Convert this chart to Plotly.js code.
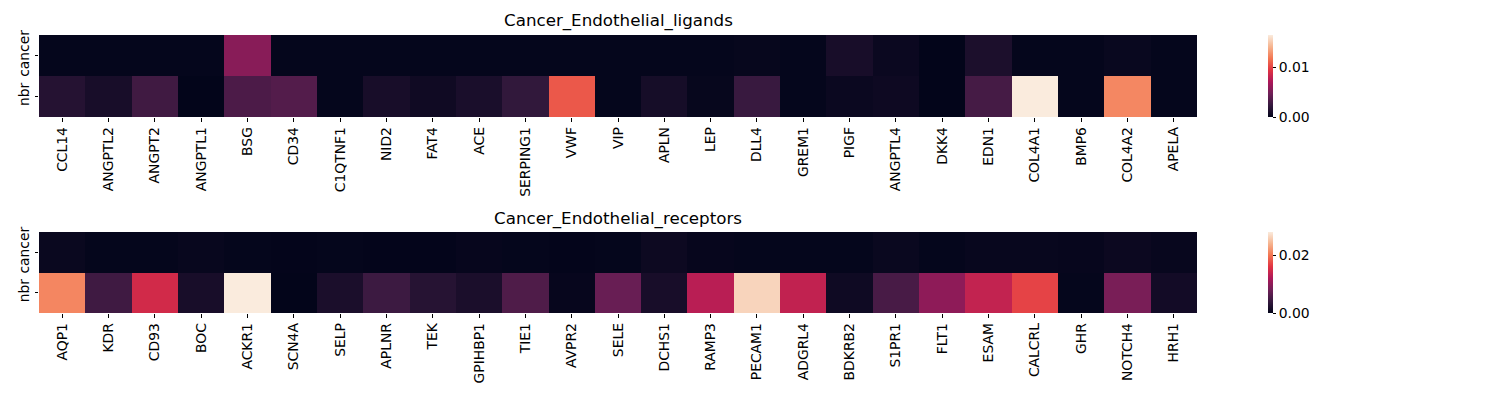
<!DOCTYPE html>
<html>
<head>
<meta charset="utf-8">
<script src="https://cdn.plot.ly/plotly-3.0.1.min.js"></script>
<style>html,body{margin:0;padding:0;background:#fff;}#chart{width:1500px;height:400px;}</style>
</head>
<body>
<div id="chart"></div>
<script>
// ---- data ----
const rowLabels = ['cancer', 'nbr'];

const ligandGenes = ['CCL14','ANGPTL2','ANGPT2','ANGPTL1','BSG','CD34','C1QTNF1','NID2','FAT4','ACE',
  'SERPING1','VWF','VIP','APLN','LEP','DLL4','GREM1','PIGF','ANGPTL4','DKK4','EDN1','COL4A1','BMP6','COL4A2','APELA'];
const ligandCancer = [0.0001,0.0001,0.0001,0.0001,0.0057,0.0001,0.0001,0.0001,0.0001,0.0001,
  0.0001,0.0001,0.0001,0.0001,0.0001,0.0002,0.0001,0.0010,0.0004,0.0000,0.0012,0.0001,0.0001,0.0003,0.0001];
const ligandNbr = [0.0016,0.0010,0.0028,0.0000,0.0033,0.0036,0.0001,0.0010,0.0006,0.0011,
  0.0022,0.0108,0.0001,0.0009,0.0002,0.0025,0.0001,0.0004,0.0005,0.0000,0.0030,0.0166,0.0001,0.0125,0.0001];

const receptorGenes = ['AQP1','KDR','CD93','BOC','ACKR1','SCN4A','SELP','APLNR','TEK','GPIHBP1',
  'TIE1','AVPR2','SELE','DCHS1','RAMP3','PECAM1','ADGRL4','BDKRB2','S1PR1','FLT1','ESAM','CALCRL','GHR','NOTCH4','HRH1'];
const receptorCancer = [0.0006,0.0002,0.0002,0.0004,0.0002,0.0001,0.0002,0.0001,0.0001,0.0003,
  0.0002,0.0001,0.0002,0.0008,0.0003,0.0002,0.0002,0.0002,0.0006,0.0002,0.0004,0.0004,0.0003,0.0007,0.0004];
const receptorNbr = [0.0211,0.0047,0.0148,0.0017,0.0281,0.0000,0.0019,0.0045,0.0028,0.0019,
  0.0058,0.0003,0.0075,0.0017,0.0130,0.0264,0.0136,0.0010,0.0053,0.0100,0.0137,0.0170,0.0002,0.0086,0.0013];

const ligandTicks = [0, 0.01];
const receptorTicks = [0, 0.02];

// ---- style ----
const rocket = [
  [0.0,'#03051a'],[0.143,'#35193e'],[0.286,'#701f57'],[0.429,'#ad1759'],
  [0.571,'#e13342'],[0.714,'#f37651'],[0.857,'#f6b48f'],[1.0,'#faebdd']
];
const W = 1500, H = 400;
const font = {family: 'DejaVu Sans, sans-serif', size: 13.9, color: '#000'};
const px = v => v / W, py = v => 1 - v / H;

function cb(topPx, botPx, ticks) {
  return {
    x: px(1268), xanchor: 'left', y: py(topPx), yanchor: 'top',
    len: (botPx - topPx) / H, lenmode: 'fraction',
    thickness: 5, thicknessmode: 'pixels', outlinewidth: 0,
    ticks: 'outside', ticklen: 3.5, tickwidth: 1, tickcolor: '#000',
    tickvals: ticks, ticktext: ticks.map(t => t.toFixed(2)),
    tickfont: font, xpad: 0, ypad: 0
  };
}

const data = [
  {type: 'heatmap', x: ligandGenes, y: rowLabels, z: [ligandCancer, ligandNbr],
   colorscale: rocket, xaxis: 'x', yaxis: 'y', xgap: 0, ygap: 0,
   colorbar: cb(35, 117, ligandTicks), hoverinfo: 'x+y+z'},
  {type: 'heatmap', x: receptorGenes, y: rowLabels, z: [receptorCancer, receptorNbr],
   colorscale: rocket, xaxis: 'x2', yaxis: 'y2',
   colorbar: cb(232, 313, receptorTicks), hoverinfo: 'x+y+z'}
];

function xa(anchor) {
  return {domain: [px(39), px(1197)], anchor: anchor, tickangle: -90, ticks: 'outside',
    ticklen: 3.5, tickcolor: '#000', tickfont: font, showgrid: false, zeroline: false,
    showline: false, fixedrange: true};
}
function ya(anchor, top, bot) {
  return {domain: [py(bot), py(top)], anchor: anchor, autorange: 'reversed', tickangle: -90,
    ticks: 'outside', ticklen: 3.5, tickcolor: '#000', tickfont: font, showgrid: false,
    zeroline: false, showline: false, fixedrange: true};
}

const layout = {
  width: W, height: H, margin: {l: 0, r: 0, t: 0, b: 0},
  paper_bgcolor: '#fff', plot_bgcolor: '#fff', font: font, showlegend: false,
  xaxis: xa('y'), yaxis: ya('x', 35, 117),
  xaxis2: xa('y2'), yaxis2: ya('x2', 232, 313),
  annotations: [
    {text: 'Cancer_Endothelial_ligands', x: px(618), y: py(21), xref: 'paper', yref: 'paper',
     showarrow: false, xanchor: 'center', yanchor: 'middle', font: {family: font.family, size: 16.7, color: '#000'}},
    {text: 'Cancer_Endothelial_receptors', x: px(618), y: py(218), xref: 'paper', yref: 'paper',
     showarrow: false, xanchor: 'center', yanchor: 'middle', font: {family: font.family, size: 16.7, color: '#000'}}
  ]
};

Plotly.newPlot('chart', data, layout, {staticPlot: true, displayModeBar: false});
</script>
</body>
</html>
